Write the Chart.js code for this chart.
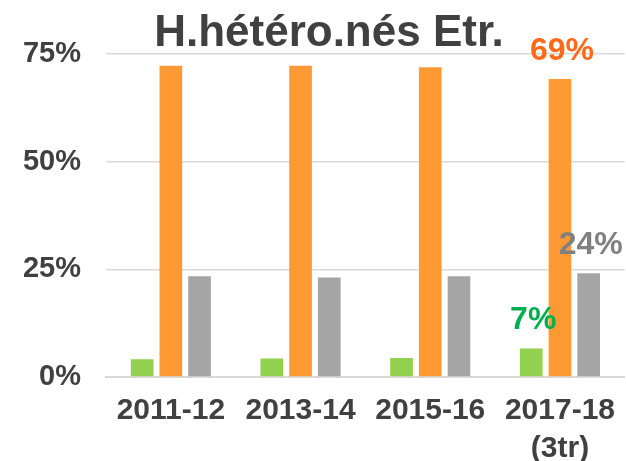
<!DOCTYPE html>
<html>
<head>
<meta charset="utf-8">
<script src="https://cdn.jsdelivr.net/npm/chart.js@4/dist/chart.umd.min.js"></script>
<style>
  html, body { margin: 0; padding: 0; background: #fff; overflow: hidden; }
  #wrap { width: 630px; height: 461px; }
</style>
</head>
<body>
<div id="wrap"><canvas id="chart" width="630" height="461"></canvas></div>
<script>
const categories = ['2011-12', '2013-14', '2015-16', ['2017-18', '(3tr)']];
const greenValues = [4.1, 4.3, 4.4, 6.6];
const orangeValues = [72.3, 72.3, 71.9, 69.2];
const greyValues = [23.4, 23.1, 23.4, 24.1];
const yTicks = [0, 25, 50, 75];
const chartTitle = 'H.hétéro.nés Etr.';
const labelledIndex = 3;

const textColor = '#404040';
const font = 'Liberation Sans, Arial, sans-serif';

// value labels over the last group only
const valueLabels = {
  id: 'valueLabels',
  afterDatasetsDraw(chart) {
    const ctx = chart.ctx;
    ctx.save();
    ctx.font = 'bold 32px ' + font;
    ctx.textAlign = 'center';
    ctx.textBaseline = 'middle';
    chart.data.datasets.forEach((ds, i) => {
      const bar = chart.getDatasetMeta(i).data[labelledIndex];
      ctx.fillStyle = ds.labelColor;
      ctx.fillText(Math.round(ds.data[labelledIndex]) + '%', bar.x + 2, bar.y - 28);
    });
    ctx.restore();
  }
};

const titlePlugin = {
  id: 'topTitle',
  afterDraw(chart) {
    const ctx = chart.ctx;
    ctx.save();
    ctx.font = 'bold 44px ' + font;
    ctx.fillStyle = textColor;
    ctx.textAlign = 'center';
    ctx.textBaseline = 'alphabetic';
    ctx.fillText(chartTitle, 329, 46);
    ctx.restore();
  }
};

new Chart(document.getElementById('chart').getContext('2d'), {
  type: 'bar',
  data: {
    labels: categories,
    datasets: [
      { data: greenValues, backgroundColor: '#92D050', labelColor: '#00B050' },
      { data: orangeValues, backgroundColor: '#FF9933', labelColor: '#FF6A1A' },
      { data: greyValues, backgroundColor: '#A5A5A5', labelColor: '#808080' }
    ]
  },
  options: {
    responsive: false,
    animation: false,
    layout: { padding: { top: 54, right: 0, bottom: 0, left: 0 } },
    datasets: {
      bar: { categoryPercentage: 0.664, barPercentage: 0.79 }
    },
    plugins: {
      legend: { display: false },
      tooltip: { enabled: false }
    },
    scales: {
      x: {
        grid: { display: false, drawTicks: false },
        border: { color: '#D9D9D9', width: 2 },
        ticks: {
          color: textColor,
          font: { family: font, size: 30, weight: 'bold', lineHeight: 1.27 },
          padding: 15,
          maxRotation: 0
        },
        afterFit(scale) { scale.height = 84; }
      },
      y: {
        min: 0,
        max: 75,
        afterBuildTicks(scale) { scale.ticks = yTicks.map(v => ({ value: v })); },
        grid: { color: '#D9D9D9', lineWidth: 1.5, drawTicks: false },
        border: { display: false },
        ticks: {
          color: textColor,
          font: { family: font, size: 29, weight: 'bold' },
          padding: 25,
          callback: v => v + '%'
        },
        afterFit(scale) { scale.width = 106; }
      }
    }
  },
  plugins: [valueLabels, titlePlugin]
});
</script>
</body>
</html>
